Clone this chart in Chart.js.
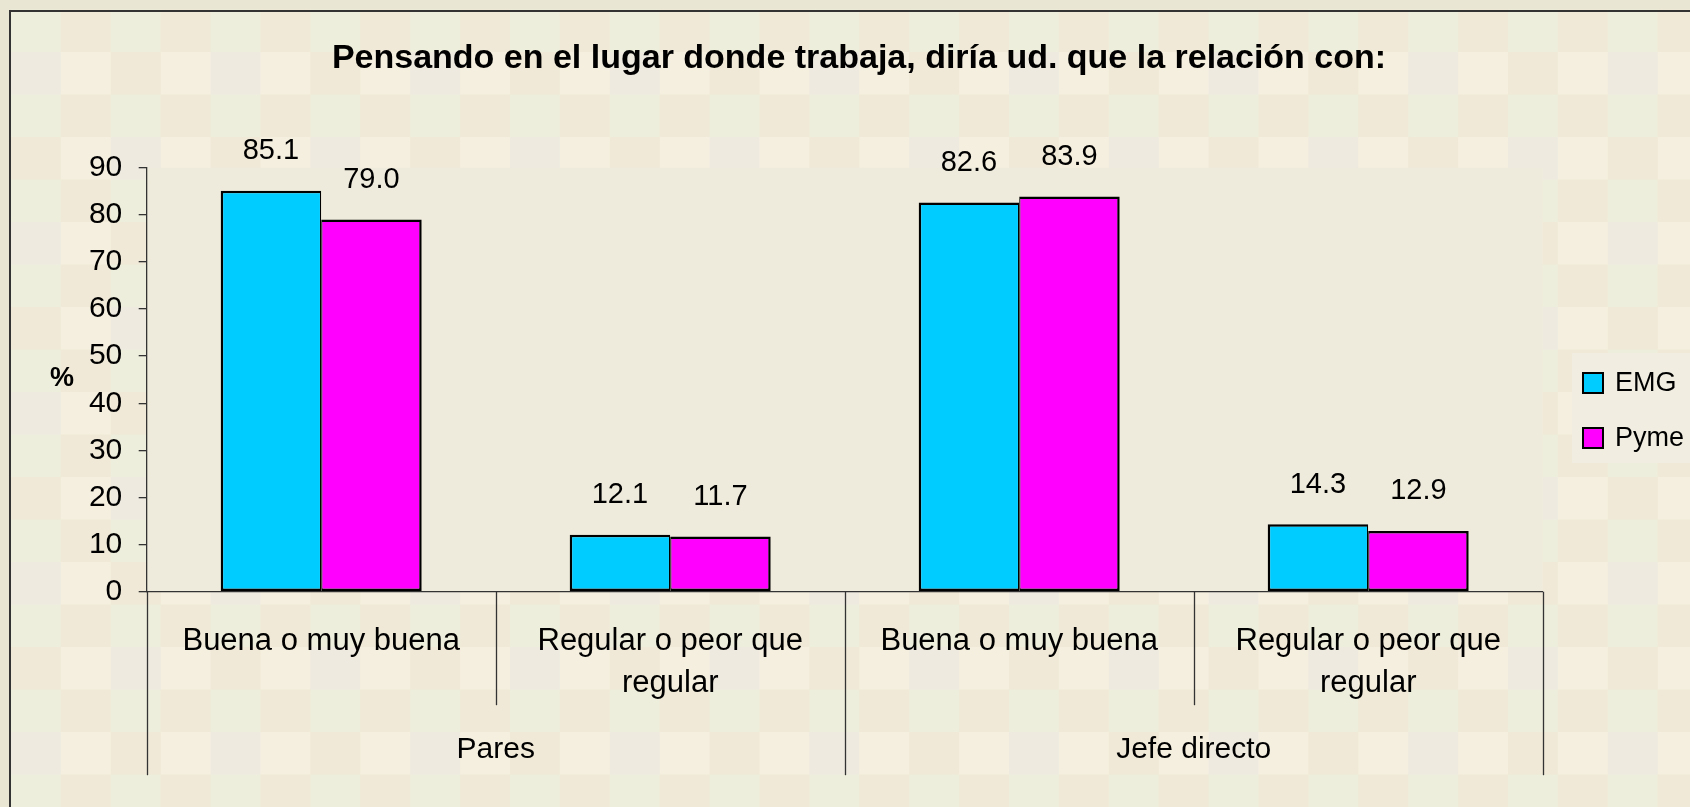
<!DOCTYPE html>
<html lang="es">
<head>
<meta charset="utf-8">
<title>Pensando en el lugar donde trabaja</title>
<script src="https://cdn.jsdelivr.net/npm/chart.js@4.4.1/dist/chart.umd.min.js"></script>
<style>
    html, body { margin: 0; padding: 0; background: #e9e7d3; overflow: hidden; }
    canvas { display: block; }
</style>
</head>
<body>
<canvas id="chart" width="1690" height="807"></canvas>
<script>
// ─── Data ─────────────────────────────────────────────────────────────────
const chartTitle = 'Pensando en el lugar donde trabaja, diría ud. que la relación con:';
const categories = [
    'Buena o muy buena',
    ['Regular o peor que', 'regular'],
    'Buena o muy buena',
    ['Regular o peor que', 'regular'],
];
const groups = ['Pares', 'Jefe directo'];
const seriesNames = ['EMG', 'Pyme'];
const emgValues = [85.1, 12.1, 82.6, 14.3];
const pymeValues = [79.0, 11.7, 83.9, 12.9];
const yTicks = [0, 10, 20, 30, 40, 50, 60, 70, 80, 90];

// ─── Palette ──────────────────────────────────────────────────────────────
const COLORS = {
    emg:    '#00ccff',
    pyme:   '#ff00ff',
    ink:    '#000000',
    axis:   '#333333',
    outer:  '#e9e7d3',
    plot:   '#efebdc',
    green:  '#eeeedc',
    tan:    '#f0e9d7',
    cream:  '#f5efdf',
    gray:   '#eeeae0',
    legend: '#f1eee1',
};
const FONT = "'Liberation Sans', Arial, sans-serif";

// ─── Background: checkered panel, frame and plot fill ─────────────────────
const backdrop = {
    id: 'backdrop',
    beforeDraw(chart) {
        const { ctx, width, height, chartArea: a } = chart;
        ctx.save();
        ctx.fillStyle = COLORS.outer;
        ctx.fillRect(0, 0, width, height);

        const cw = 49.9, ch = 42.5, x0 = 11, y0 = 9.5;
        for (let r = 0; y0 + r * ch < height; r++) {
            for (let c = 0; x0 + c * cw < width; c++) {
                let col;
                if (r % 2 === 0) col = c % 2 === 0 ? COLORS.green : COLORS.tan;
                else if (c % 2 === 1) col = COLORS.cream;
                else col = ((c / 2 + (r - 1) / 2) % 2 === 0) ? COLORS.gray : COLORS.tan;
                ctx.fillStyle = col;
                ctx.fillRect(x0 + c * cw, y0 + r * ch, cw + 0.5, ch + 0.5);
            }
        }

        ctx.fillStyle = COLORS.axis;
        ctx.fillRect(9, 10, width, 2);
        ctx.fillRect(9, 10, 2, height);

        ctx.fillStyle = COLORS.plot;
        ctx.fillRect(a.left, a.top, a.right - a.left, a.bottom - a.top);

        ctx.fillStyle = COLORS.legend;
        ctx.fillRect(1572, 353, 118, 110);
        ctx.restore();
    }
};

// ─── Extras: title, value labels, group axis, % label, legend ─────────────
const extras = {
    id: 'extras',
    afterDraw(chart) {
        const { ctx } = chart;
        const x = chart.scales.x;
        const y = chart.scales.y;
        const base = y.getPixelForValue(0);
        ctx.save();
        ctx.fillStyle = COLORS.ink;
        ctx.textAlign = 'center';
        ctx.textBaseline = 'middle';

        // title
        ctx.font = `bold 34px ${FONT}`;
        ctx.fillText(chartTitle, 859, 59);

        // values over bars
        ctx.font = `29px ${FONT}`;
        chart.data.datasets.forEach((ds, di) => {
            chart.getDatasetMeta(di).data.forEach((bar, i) => {
                ctx.fillText(ds.data[i].toFixed(1), bar.x, bar.y - 39.5);
            });
        });

        // category dividers (short) and group dividers (long)
        const per = categories.length / groups.length;
        ctx.strokeStyle = COLORS.axis;
        ctx.lineWidth = 1.3;
        for (let i = 0; i <= categories.length; i++) {
            const px = Math.round(x.getPixelForValue(i - 0.5)) + 0.5;
            const len = i % per === 0 ? 183.5 : 113.5;
            ctx.beginPath();
            ctx.moveTo(px, base);
            ctx.lineTo(px, base + len);
            ctx.stroke();
        }

        // group labels
        ctx.font = `30px ${FONT}`;
        groups.forEach((g, gi) => {
            const x1 = x.getPixelForValue(gi * per - 0.5);
            const x2 = x.getPixelForValue((gi + 1) * per - 0.5);
            ctx.fillText(g, (x1 + x2) / 2, base + 158.5);
        });

        // y axis "%" label
        ctx.font = `bold 27px ${FONT}`;
        ctx.fillText('%', 62, 379);

        // legend
        ctx.textAlign = 'left';
        ctx.font = `27px ${FONT}`;
        chart.data.datasets.forEach((ds, di) => {
            const top = 373 + di * 55;
            ctx.fillStyle = ds.backgroundColor;
            ctx.fillRect(1583, top, 20, 20);
            ctx.strokeStyle = COLORS.ink;
            ctx.lineWidth = 2;
            ctx.strokeRect(1583, top, 20, 20);
            ctx.fillStyle = COLORS.ink;
            ctx.fillText(ds.label, 1615, top + 11);
        });

        ctx.restore();
    }
};

// ─── Chart ────────────────────────────────────────────────────────────────
new Chart(document.getElementById('chart'), {
    type: 'bar',
    data: {
        labels: categories,
        datasets: [
            {
                label: seriesNames[0],
                data: emgValues,
                backgroundColor: COLORS.emg,
                borderColor: COLORS.ink,
                borderWidth: { top: 2.5, left: 2.5, bottom: 2.5, right: 1.25 },
                borderSkipped: false,
            },
            {
                label: seriesNames[1],
                data: pymeValues,
                backgroundColor: COLORS.pyme,
                borderColor: COLORS.ink,
                borderWidth: { top: 2.5, left: 1.25, bottom: 2.5, right: 2.5 },
                borderSkipped: false,
            },
        ]
    },
    options: {
        responsive: false,
        animation: false,
        devicePixelRatio: 1,
        barPercentage: 1,
        categoryPercentage: 0.576,
        layout: { padding: { left: 0, top: 167.7, right: 147.3, bottom: 0 } },
        plugins: {
            legend: { display: false },
            tooltip: { enabled: false },
            title: { display: false }
        },
        scales: {
            x: {
                grid: { display: false },
                border: { display: true, color: COLORS.axis, width: 1.3 },
                ticks: {
                    color: COLORS.ink,
                    font: { family: FONT, size: 31, lineHeight: 1.33 },
                    padding: 21.5,
                    maxRotation: 0,
                    autoSkip: false,
                },
                afterFit: (scale) => { scale.height = 215.3; }
            },
            y: {
                min: 0,
                max: 90,
                afterBuildTicks: (scale) => { scale.ticks = yTicks.map(v => ({ value: v })); },
                grid: { drawOnChartArea: false, drawTicks: true, tickLength: 8, color: COLORS.axis, lineWidth: 1.3 },
                border: { display: true, color: COLORS.axis, width: 1.3 },
                ticks: {
                    color: COLORS.ink,
                    font: { family: FONT, size: 30 },
                    padding: 16.4,
                },
                afterFit: (scale) => { scale.width = 146.7; }
            }
        }
    },
    plugins: [backdrop, extras]
});
</script>
</body>
</html>
